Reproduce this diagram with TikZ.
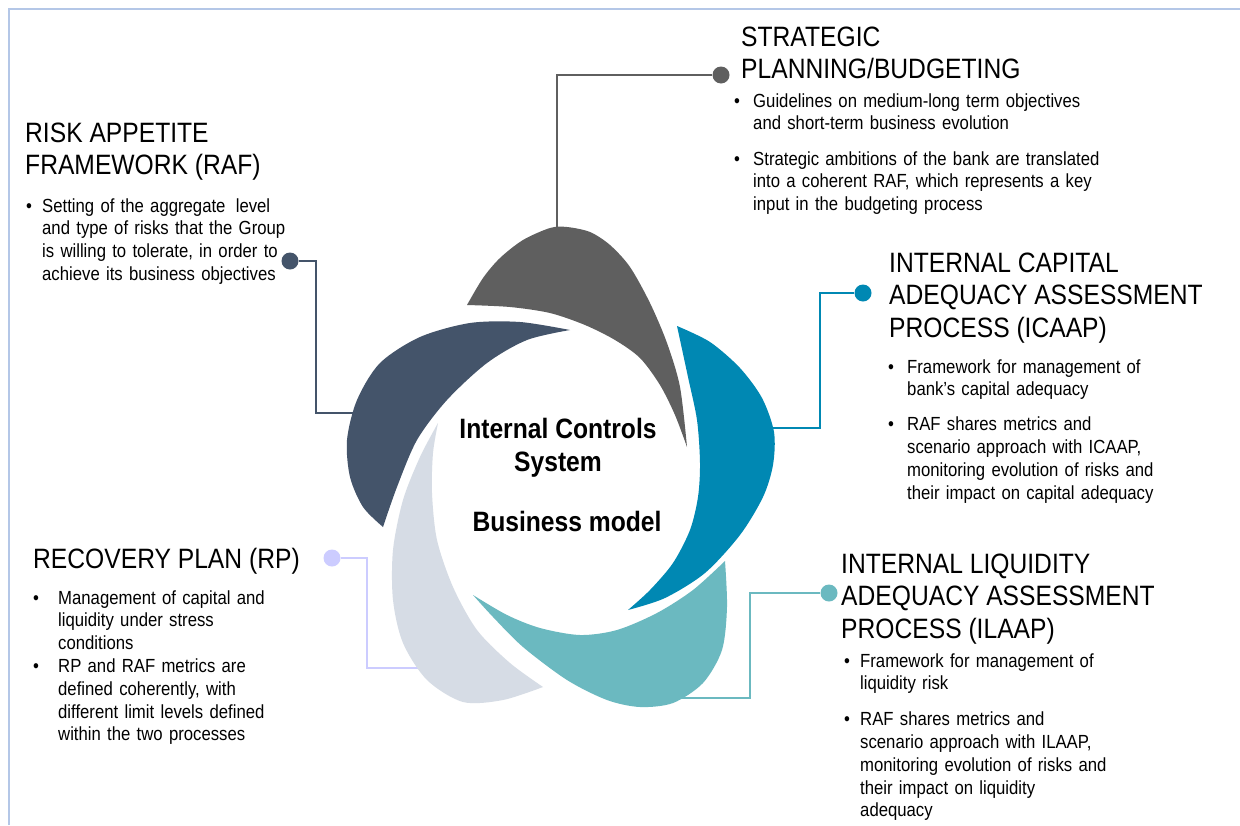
\documentclass[tikz,border=0pt]{standalone}
\usepackage{fontspec}
\setmainfont{Liberation Sans}[FakeStretch=0.88]
\newfontfamily\bodyfont{Liberation Sans}[FakeStretch=0.88, WordSpace=1.35]
\definecolor{cgrey}{HTML}{5F5F5F}
\definecolor{cslate}{HTML}{44546A}
\definecolor{cblue}{HTML}{0088B3}
\definecolor{cteal}{HTML}{6BB9C0}
\definecolor{clight}{HTML}{D6DCE5}
\definecolor{clav}{HTML}{CCCCFF}
\definecolor{cborder}{HTML}{B4C7E7}
\tikzset{
  dot/.style={circle, inner sep=0pt, minimum size=17pt},
  conn/.style={line width=2pt},
  titletext/.style={anchor=base west, inner sep=0pt, font=\fontsize{28}{32.5}\selectfont},
  bodytext/.style={anchor=base west, inner sep=0pt, font=\bodyfont\fontsize{19}{22.8}\selectfont},
  centertext/.style={anchor=base, inner sep=0pt, font=\fontsize{28}{33}\selectfont\bfseries},
}
\begin{document}
\begin{tikzpicture}[x=1pt,y=-1pt]
\useasboundingbox (0,0) rectangle (1240,825);
\fill[white] (0,0) rectangle (1240,825);
\draw[cborder, line width=1.5pt] (9,825) -- (9,9) -- (1240,9);

% dots
\node[dot, fill=cgrey]  (sdot) at (721,75) {};
\node[dot, fill=cslate] (rdot) at (290,261) {};
\node[dot, fill=cblue]  (idot) at (863,293) {};
\node[dot, fill=clav]   (pdot) at (332,558) {};
\node[dot, fill=cteal]  (ldot) at (829,593) {};

% attach points
\coordinate (satt) at (557,240);
\coordinate (rbend) at (316,413);
\coordinate (ratt) at (360,413);
\coordinate (ibend) at (820,428);
\coordinate (iatt) at (765,428);
\coordinate (pbend) at (367,668);
\coordinate (patt) at (425,668);
\coordinate (lbend) at (750,698);
\coordinate (latt) at (665,698);

% connectors
\draw[conn, cgrey] (sdot) -| (satt);
\draw[conn, cslate] (rdot) -| (rbend) -- (ratt);
\draw[conn, cblue] (idot) -| (ibend) -- (iatt);
\draw[conn, clav] (pdot) -| (pbend) -- (patt);
\draw[conn, cteal] (ldot) -| (lbend) -- (latt);

% petals
\fill[cgrey] plot[smooth] coordinates {(467,305) (483,278) (500,258) (523,240) (550,228) (567,227) (590,232) (610,245) (630,267) (650,303) (667,343) (680,387) (687,447)}
  -- plot[smooth] coordinates {(687,447) (675,415) (660,385) (640,358) (615,340) (585,325) (550,313) (510,307) (467,305)} -- cycle;
\fill[cblue] plot[smooth] coordinates {(677,326) (710,342) (740,368) (762,398) (774,432) (773,465) (763,497) (740,535) (705,573) (665,598) (628,610)}
  -- plot[smooth] coordinates {(628,610) (650,590) (673,563) (690,530) (698,497) (700,463) (697,420) (688,377) (677,326)} -- cycle;
\fill[cteal] plot[smooth] coordinates {(473,595) (507,615) (540,628) (580,635) (617,630) (657,613) (693,590) (725,561)}
  -- plot[smooth] coordinates {(725,561) (727,607) (722,650) (703,683) (673,703) (640,707) (607,700) (567,680) (523,647) (493,617) (473,595)} -- cycle;
\fill[clight] plot[smooth] coordinates {(438,423) (420,457) (403,500) (393,550) (393,600) (403,643) (427,680) (463,702) (503,700) (543,687)}
  -- plot[smooth] coordinates {(543,687) (510,663) (477,630) (453,587) (437,540) (432,493) (433,453) (438,423)} -- cycle;
\fill[cslate] plot[smooth] coordinates {(570,330) (520,322) (470,323) (420,337) (380,363) (357,400) (347,440) (350,477) (363,507) (383,527)}
  -- plot[smooth] coordinates {(383,527) (397,487) (417,440) (447,400) (487,363) (527,340) (570,330)} -- cycle;

% centre text
\node[centertext] (c1) at (558,438) {Internal Controls};
\node[centertext] (c2) at (558,471) {System};
\node[centertext] (c3) at (567,531) {Business model};

% STRATEGIC
\node[titletext] (st) at (741,46) {\begin{tabular}[t]{@{}l@{}}STRATEGIC\\PLANNING/BUDGETING\end{tabular}};
\node[bodytext] (sb) at (734,107) {\begin{tabular}[t]{@{}p{19pt}@{}l@{}}
\textbullet & Guidelines on medium-long term objectives\\
 & and short-term business evolution\\[12.5pt]
\textbullet & Strategic ambitions of the bank are translated\\
 & into a coherent RAF, which represents a key\\
 & input in the budgeting process
\end{tabular}};

% RAF
\node[titletext] (rt) at (25,142) {\begin{tabular}[t]{@{}l@{}}RISK APPETITE\\FRAMEWORK (RAF)\end{tabular}};
\node[bodytext] (rb) at (26,212) {\begin{tabular}[t]{@{}p{16pt}@{}l@{}}
\textbullet & Setting of the aggregate\hspace{4pt} level\\
 & and type of risks that the Group\\
 & is willing to tolerate, in order to\\
 & achieve its business objectives
\end{tabular}};

% ICAAP
\node[titletext] (it) at (889,272) {\begin{tabular}[t]{@{}l@{}}INTERNAL CAPITAL\\ADEQUACY ASSESSMENT\\PROCESS (ICAAP)\end{tabular}};
\node[bodytext] (ib) at (888,373) {\begin{tabular}[t]{@{}p{19pt}@{}l@{}}
\textbullet & Framework for management of\\
 & bank’s capital adequacy\\[12pt]
\textbullet & RAF shares metrics and\\
 & scenario approach with ICAAP,\\
 & monitoring evolution of risks and\\
 & their impact on capital adequacy
\end{tabular}};

% RP
\node[titletext] (pt) at (33,568) {RECOVERY PLAN (RP)};
\node[bodytext] (pb) at (33,604) {\begin{tabular}[t]{@{}p{25pt}@{}l@{}}
\textbullet & Management of capital and\\
 & liquidity under stress\\
 & conditions\\
\textbullet & RP and RAF metrics are\\
 & defined coherently, with\\
 & different limit levels defined\\
 & within the two processes
\end{tabular}};

% ILAAP
\node[titletext] (lt) at (841,573) {\begin{tabular}[t]{@{}l@{}}INTERNAL LIQUIDITY\\ADEQUACY ASSESSMENT\\PROCESS (ILAAP)\end{tabular}};
\node[bodytext] (lb) at (844,667) {\begin{tabular}[t]{@{}p{16pt}@{}l@{}}
\textbullet & Framework for management of\\
 & liquidity risk\\[13pt]
\textbullet & RAF shares metrics and\\
 & scenario approach with ILAAP,\\
 & monitoring evolution of risks and\\
 & their impact on liquidity\\
 & adequacy
\end{tabular}};
\end{tikzpicture}
\end{document}
